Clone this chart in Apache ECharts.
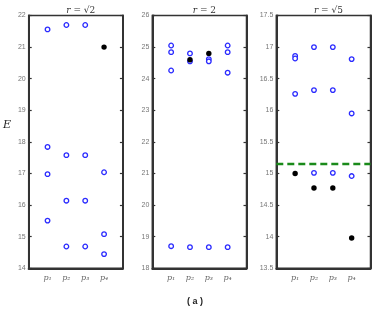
<!DOCTYPE html>
<html><head><meta charset="utf-8">
<script src="https://cdn.jsdelivr.net/npm/echarts@6/dist/echarts.min.js"></script>
<style>html,body{margin:0;padding:0;background:#fff}#c{width:374px;height:310px}</style>
</head><body><div id="c"></div>
<script>
const categories = ['p₁','p₂','p₃','p₄'];
const panelTitles = ['√2','2','√5'];
// open (blue ring) values per category, per panel
const p1Open = [[21.56,17.84,16.98,15.51],[21.70,17.58,16.14,14.69],[21.70,17.58,16.14,14.69],[17.04,15.08,14.45]];
const p1Filled = [[],[],[],[21.0]];
const p2Open = [[25.05,24.84,24.26,18.70],[24.80,24.55,18.67],[24.62,24.55,18.67],[25.05,24.84,24.19,18.67]];
const p2Filled = [[],[24.60],[24.80],[]];
const p3Open = [[16.86,16.82,16.26],[17.0,16.32,15.01],[17.0,16.32,15.01],[16.81,15.95,14.96]];
const p3Filled = [[15.0],[14.77],[14.77],[13.98]];
const p3Threshold = 15.15;
const yTicks = [{min:14,max:22,interval:1},{min:18,max:26,interval:1},{min:13.5,max:17.5,interval:0.5}];

const chart = echarts.init(document.getElementById('c'), null, {renderer:'canvas'});
const lefts = [28.7, 152.3, 276.3];
const W = 94.2, TOP = 15.5, H = 252.8;
const grids = [], xAxes = [], yAxes = [], series = [], titles = [];
const opens = [p1Open, p2Open, p3Open], filleds = [p1Filled, p2Filled, p3Filled];
function toPts(arr){const o=[];arr.forEach((vals,i)=>vals.forEach(v=>o.push([i+1,v])));return o;}
for (let k=0;k<3;k++){
  grids.push({left:lefts[k], top:TOP, width:W, height:H, show:true, borderColor:'#333', borderWidth:1.5, backgroundColor:'transparent'});
  xAxes.push({type:'value', gridIndex:k, min:0, max:5, interval:1,
    axisLine:{show:true, lineStyle:{color:'#333', width:2}}, axisTick:{show:false}, splitLine:{show:false},
    axisLabel:{margin:6, color:'#666', fontFamily:'DejaVu Serif', fontStyle:'italic', fontSize:8,
      formatter:v=> (v>=1&&v<=4)? categories[v-1] : ''}});
  const t = yTicks[k];
  yAxes.push({type:'value', gridIndex:k, position:'left', min:t.min, max:t.max, interval:t.interval,
    axisLine:{show:true, lineStyle:{color:'#333', width:2}},
    axisTick:{show:true, inside:true, length:3, lineStyle:{color:'#333', width:1.2}},
    splitLine:{show:false},
    axisLabel:{margin:3, color:'#777', fontFamily:'Liberation Sans', fontSize:7}});
  yAxes.push({type:'value', gridIndex:k, position:'right', min:t.min, max:t.max, interval:t.interval,
    axisLine:{show:true, lineStyle:{color:'#333', width:2}},
    axisTick:{show:true, inside:true, length:3, lineStyle:{color:'#333', width:1.2}},
    splitLine:{show:false}, axisLabel:{show:false}});
  series.push({type:'scatter', xAxisIndex:k, yAxisIndex:2*k, data:toPts(opens[k]), symbol:'circle', symbolSize:4.6,
    itemStyle:{color:'#fff', borderColor:'#2b2bff', borderWidth:1.3, opacity:1}, z:3});
  series.push({type:'scatter', xAxisIndex:k, yAxisIndex:2*k, data:toPts(filleds[k]), symbol:'circle', symbolSize:5.4,
    itemStyle:{color:'#000', opacity:1}, z:4});
  titles.push({text:'{i|r} = '+panelTitles[k], left:lefts[k]+W/2, top:1, textAlign:'center',
    textStyle:{rich:{i:{fontFamily:'DejaVu Serif', fontStyle:'italic', fontSize:9, color:'#333'}},
      fontFamily:'DejaVu Serif', fontSize:9, color:'#333', fontWeight:'normal'}});
}
series.push({type:'line', xAxisIndex:2, yAxisIndex:4, data:[[0,p3Threshold],[5,p3Threshold]], symbol:'none',
  lineStyle:{color:'#1a8a1a', width:2.5, type:[7,4]}, z:2, silent:true});

chart.setOption({
  animation:false,
  title:titles,
  grid:grids, xAxis:xAxes, yAxis:yAxes, series:series,
  graphic:[
    {type:'text', left:3, top:120, style:{text:'E', fontFamily:'DejaVu Serif', fontStyle:'italic', fontSize:11, fill:'#222'}},
    {type:'text', left:187, top:297, style:{text:'( a )', fontFamily:'Liberation Sans', fontWeight:'bold', fontSize:9, fill:'#222'}}
  ]
});
</script></body></html>
